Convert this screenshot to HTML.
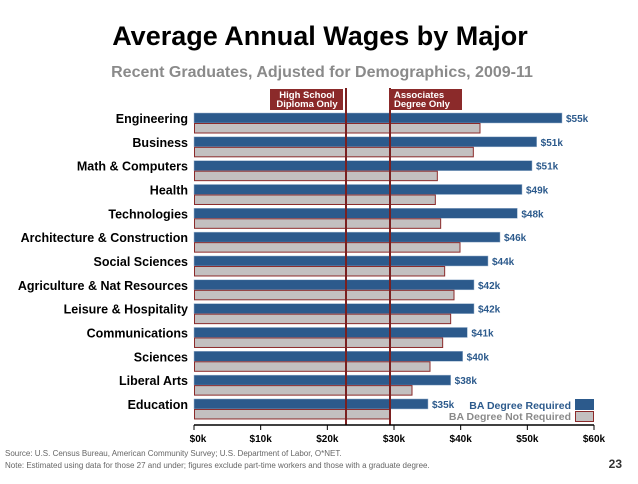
<!DOCTYPE html>
<html><head><meta charset="utf-8"><style>
body{margin:0;background:#fff;font-family:"Liberation Sans",sans-serif}
svg text{font-family:"Liberation Sans",sans-serif}
</style></head><body>
<svg width="638" height="479" viewBox="0 0 638 479">
<text x="320" y="45" text-anchor="middle" font-size="27" font-weight="bold" fill="#000">Average Annual Wages by Major</text>
<text x="322" y="77" text-anchor="middle" font-size="16" font-weight="bold" fill="#8a8a8a">Recent Graduates, Adjusted for Demographics, 2009-11</text>
<g id="plot"></g>
<text x="5" y="456" font-size="8" fill="#666">Source: U.S. Census Bureau, American Community Survey; U.S. Department of Labor, O*NET.</text>
<text x="5" y="468" font-size="8" fill="#666">Note: Estimated using data for those 27 and under; figures exclude part-time workers and those with a graduate degree.</text>
<text x="622" y="468" text-anchor="end" font-size="12" font-weight="bold" fill="#333">23</text>
</svg>
<script>
const categories=["Engineering","Business","Math & Computers","Health","Technologies","Architecture & Construction","Social Sciences","Agriculture & Nat Resources","Leisure & Hospitality","Communications","Sciences","Liberal Arts","Education"];
const baRequired=[55.2,51.4,50.7,49.2,48.5,45.9,44.1,42,42,41,40.3,38.5,35.1];
const baNotRequired=[42.9,41.9,36.5,36.2,37,39.9,37.6,39,38.5,37.3,35.4,32.7,29.4];
const valueLabels=["$55k","$51k","$51k","$49k","$48k","$46k","$44k","$42k","$42k","$41k","$40k","$38k","$35k"];
const tickValues=[0,10,20,30,40,50,60];
const tickLabels=["$0k","$10k","$20k","$30k","$40k","$50k","$60k"];
const refValues=[22.8,29.4];
const refLabels=[["High School","Diploma Only"],["Associates","Degree Only"]];
const NS="http://www.w3.org/2000/svg";
const g=document.getElementById('plot');
const x=v=>194+v*400/60;
const y=i=>113+i*23.83;
function mk(t,a,p){const e=document.createElementNS(NS,t);for(const k in a)e.setAttribute(k,a[k]);(p||g).appendChild(e);return e;}
categories.forEach((c,i)=>{
 const b=mk('rect',{x:194,y:y(i),width:x(baRequired[i])-194,height:10,fill:'#2c5a8c',stroke:'#9fb6d0','stroke-width':0.5});
 
 
 const r=mk('rect',{x:194.5,y:y(i)+10.5,width:x(baNotRequired[i])-194.5,height:9.5,fill:'#c3c0c0',stroke:'#8b2a2a','stroke-width':1});
 
 
 const l=mk('text',{x:188,y:y(i)+10,'text-anchor':'end','font-size':12.5,'font-weight':'bold',fill:'#000'});
 l.textContent=c;
 
 
 const v=mk('text',{x:x(baRequired[i])+4,y:y(i)+9,'font-size':10,'font-weight':'bold',fill:'#2c5a8c'});
 v.textContent=valueLabels[i];
 
 
});
refValues.forEach((rv,i)=>{
 const ln=mk('line',{x1:x(rv),x2:x(rv),y1:88,y2:425,stroke:'#7a2020','stroke-width':2});
 
 
 const bx=i===0?x(rv)-76:x(rv)-1;
 const box=mk('rect',{x:bx,y:89,width:73,height:21,fill:'#8b2a2a'});
 
 
 refLabels[i].forEach((s,j)=>{
  const t=mk('text',{x:i===0?bx+37:bx+5,y:98+j*9,'text-anchor':i===0?'middle':'start','font-size':9.5,'font-weight':'bold',fill:'#fff'});
  t.textContent=s;
  
  
 });
});
const ax=mk('line',{x1:194,x2:594,y1:425,y2:425,stroke:'#000','stroke-width':1.5});


tickValues.forEach((tv,i)=>{
 const tk=mk('line',{x1:x(tv),x2:x(tv),y1:425,y2:430,stroke:'#000','stroke-width':1});
 
 
 const t=mk('text',{x:x(tv)+(i===0?4:0),y:442,'text-anchor':'middle','font-size':10,'font-weight':'bold',fill:'#000'});
 t.textContent=tickLabels[i];
 
 
});
const l1=mk('text',{x:571,y:409,'text-anchor':'end','font-size':10.5,'font-weight':'bold',fill:'#2c5a8c'});
l1.textContent='BA Degree Required';


const s1=mk('rect',{x:575,y:399,width:19,height:11,fill:'#2c5a8c'});


const l2=mk('text',{x:571,y:420,'text-anchor':'end','font-size':10.5,'font-weight':'bold',fill:'#8a8a8a'});
l2.textContent='BA Degree Not Required';


const s2=mk('rect',{x:575.5,y:411.5,width:18,height:10,fill:'#c3c0c0',stroke:'#8b2a2a'});


</script>
</body></html>
